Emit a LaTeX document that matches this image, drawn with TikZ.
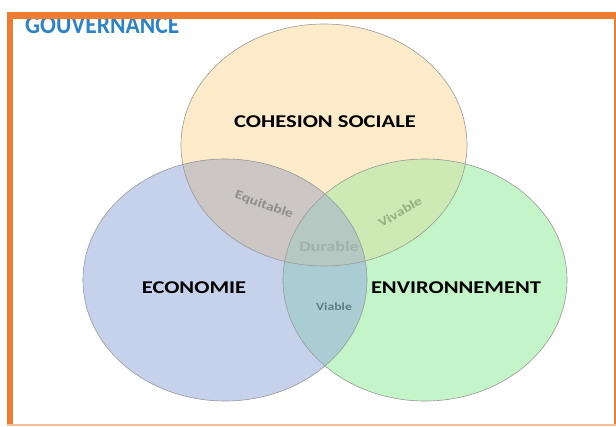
\documentclass[tikz,border=0pt]{standalone}
\usepackage{fontspec}
\setmainfont{Carlito}
\newcommand{\widetxt}[1]{\scalebox{1.25}[1]{#1}}
\begin{document}
\begin{tikzpicture}[x=1pt,y=-1pt,
  lab/.style={font=\bfseries\fontsize{18}{20}\selectfont, text=black},
  sub/.style={font=\bfseries\fontsize{12.5}{14}\selectfont},
  outl/.style={draw=black!40, line width=0.6pt}]
\definecolor{orfr}{HTML}{EE7D31}
\definecolor{ctop}{HTML}{FDEBC9}
\definecolor{cleft}{HTML}{C6D1EC}
\definecolor{cright}{HTML}{C3F5C8}
\definecolor{ctl}{HTML}{CCC6C4}
\definecolor{ctr}{HTML}{CDE9B4}
\definecolor{clr}{HTML}{A9CDD3}
\definecolor{call}{HTML}{B5C9C2}
\definecolor{gouv}{HTML}{2E83C6}
\definecolor{tequ}{HTML}{8E8E8E}
\definecolor{tviv}{HTML}{93B07F}
\definecolor{tdur}{HTML}{9FB2AC}
\definecolor{tvia}{HTML}{5E7E86}
\useasboundingbox (0,0) rectangle (616,426);
\fill[white] (0,0) rectangle (616,426);
% title under the frame bar
\node[anchor=base west, inner sep=0, text=gouv, font=\bfseries\fontsize{24}{26}\selectfont] (title) at (25,33.5) {\scalebox{0.98}[1.08]{GOUVERNANCE}};
% circles
\def\ctop{(324,145) ellipse [x radius=143, y radius=121]}
\def\cleft{(225,280) ellipse [x radius=142, y radius=121]}
\def\cright{(425,280) ellipse [x radius=142, y radius=121]}
\fill[ctop] \ctop;
\fill[cleft] \cleft;
\fill[cright] \cright;
\begin{scope}\clip \ctop; \fill[ctl] \cleft; \fill[ctr] \cright; \end{scope}
\begin{scope}\clip \cleft; \fill[clr] \cright; \end{scope}
\begin{scope}\clip \ctop; \clip \cleft; \fill[call] \cright; \end{scope}
\draw[outl] \ctop;
\draw[outl] \cleft;
\draw[outl] \cright;
% frame
\fill[orfr] (7,12) rectangle (616,19);
\fill[orfr] (7,12) rectangle (13,426);
\fill[orfr] (613.5,12) rectangle (615.5,426);
\fill[orfr!50] (7,424) rectangle (616,426);
% labels
\node[lab] (soc) at (325,121.5) {\widetxt{COHESION SOCIALE}};
\node[lab] (eco) at (194,288) {\widetxt{ECONOMIE}};
\node[lab] (env) at (456,288) {\widetxt{ENVIRONNEMENT}};
\node[sub, text=tequ, rotate=-20] (equ) at (264,205) {\widetxt{Equitable}};
\node[sub, text=tviv, rotate=30] (viv) at (400,212) {\widetxt{Vivable}};
\node[sub, text=tdur, font=\bfseries\fontsize{14.5}{16}\selectfont] (dur) at (329,246) {\widetxt{Durable}};
\node[sub, text=tvia, font=\bfseries\fontsize{11}{13}\selectfont] (via) at (334,307) {\widetxt{Viable}};
\end{tikzpicture}
\end{document}
